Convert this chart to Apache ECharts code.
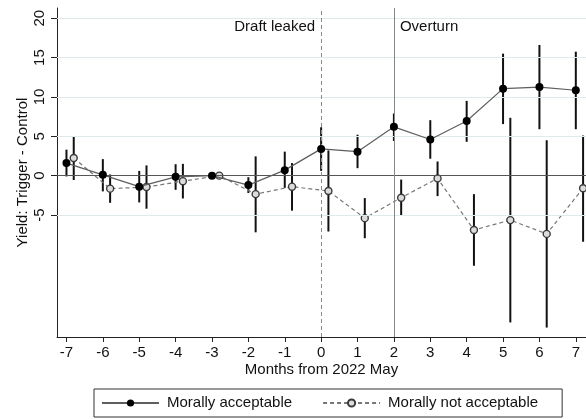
<!DOCTYPE html>
<html>
<head>
<meta charset="utf-8">
<script src="https://cdn.jsdelivr.net/npm/echarts@6/dist/echarts.min.js"></script>
<style>
  html, body { margin: 0; padding: 0; background: #fff; }
  #chart { width: 586px; height: 419px; }
</style>
</head>
<body>
<div id="chart"></div>
<script>
// Months relative to 2022 May
const months = [-7, -6, -5, -4, -3, -2, -1, 0, 1, 2, 3, 4, 5, 6, 7];

// Morally acceptable: estimate and 95% interval (month -3 is the reference)
const accEst = [1.6, 0.1, -1.4, -0.15, 0, -1.2, 0.7, 3.4, 3.05, 6.2, 4.6, 6.95, 11.05, 11.25, 10.85];
const accLo  = [-0.1, -2.0, -3.4, -1.8, null, -2.2, -1.55, 0.6, 0.95, 4.4, 2.15, 4.3, 6.55, 5.9, 5.9];
const accHi  = [3.3, 2.1, 0.6, 1.45, null, -0.2, 3.05, 6.15, 5.2, 7.9, 7.05, 9.5, 15.5, 16.6, 15.75];

// Morally not acceptable: estimate and 95% interval
const notEst = [2.25, -1.65, -1.45, -0.7, 0, -2.35, -1.4, -1.95, -5.4, -2.8, -0.35, -6.9, -5.65, -7.4, -1.6];
const notLo  = [-0.55, -3.45, -4.2, -2.9, null, -7.2, -4.45, -7.1, -7.95, -5.1, -2.6, -11.45, -18.65, -19.3, -8.4];
const notHi  = [4.95, 0.15, 1.3, 1.5, null, 2.45, 1.6, 3.2, -2.85, -0.5, 1.8, -2.35, 7.35, 4.5, 5.1];

// Axis tick labels
const xTicks = [-7, -6, -5, -4, -3, -2, -1, 0, 1, 2, 3, 4, 5, 6, 7];
const yTicks = [-5, 0, 5, 10, 15, 20];

// Event markers
const eventMonths = [0, 2];
const eventLabels = ['Draft leaked', 'Overturn'];

const seriesNames = ['Morally acceptable', 'Morally not acceptable'];

const FONT = '"Liberation Sans", Arial, Helvetica, sans-serif';
const SHIFT = 0.2; // horizontal dodge for the second group

const accPts = months.map((m, i) => [m, accEst[i]]);
const notPts = months.map((m, i) => [m + SHIFT, notEst[i]]);
const accBars = months.map((m, i) => [m, accLo[i], accHi[i]]).filter(d => d[1] !== null);
const notBars = months.map((m, i) => [m + SHIFT, notLo[i], notHi[i]]).filter(d => d[1] !== null);

function barRenderer(params, api) {
  const p1 = api.coord([api.value(0), api.value(1)]);
  const p2 = api.coord([api.value(0), api.value(2)]);
  return {
    type: 'line',
    shape: { x1: p1[0], y1: p1[1], x2: p2[0], y2: p2[1] },
    style: { stroke: '#111', lineWidth: 2 }
  };
}

const chart = echarts.init(document.getElementById('chart'), null, { renderer: 'canvas' });

chart.setOption({
  animation: false,
  backgroundColor: '#fff',
  textStyle: { fontFamily: FONT },
  grid: { left: 57, right: 0, top: 8, bottom: 82, containLabel: false },
  xAxis: {
    type: 'value',
    min: -7.26,
    max: 7.28,
    name: 'Months from 2022 May',
    nameLocation: 'middle',
    nameGap: 25,
    nameMoveOverlap: false,
    nameTextStyle: { fontSize: 15, color: '#111', fontFamily: FONT },
    axisLine: { show: true, onZero: false, lineStyle: { color: '#222', width: 1 } },
    axisTick: { show: true, customValues: xTicks, length: 5, lineStyle: { color: '#222' } },
    axisLabel: { customValues: xTicks, fontSize: 15, color: '#111', margin: 8, fontFamily: FONT },
    splitLine: { show: false }
  },
  yAxis: {
    type: 'value',
    min: -20.5,
    max: 21.3,
    name: 'Yield: Trigger - Control',
    nameLocation: 'middle',
    nameRotate: 90,
    nameGap: 27,
    nameMoveOverlap: false,
    nameTextStyle: { fontSize: 15, color: '#111', fontFamily: FONT },
    axisLine: { show: true, onZero: false, lineStyle: { color: '#222', width: 1 } },
    axisTick: { show: true, customValues: yTicks, length: 6, lineStyle: { color: '#222' } },
    axisLabel: { customValues: yTicks, rotate: 90, fontSize: 15, color: '#111', margin: 10, fontFamily: FONT },
    splitLine: { show: false }
  },
  legend: {
    data: seriesNames,
    left: 94,
    top: 389,
    orient: 'horizontal',
    itemWidth: 57,
    itemHeight: 9,
    itemGap: 30,
    padding: [6, 24, 6, 7],
    borderColor: '#333',
    borderWidth: 1,
    textStyle: { fontSize: 15, color: '#111', fontFamily: FONT, lineHeight: 16, padding: [0, 0, 0, 3] }
  },
  series: [
    {
      // reference lines: grid, zero line, event markers
      name: 'refs',
      type: 'line',
      data: [],
      z: 1,
      silent: true,
      markLine: {
        silent: true,
        symbol: 'none',
        label: { show: false },
        data: [
          ...yTicks.filter(v => v !== 0).map(v => ({ yAxis: v, lineStyle: { color: '#e0eaed', width: 1, type: 'solid' } })),
          { yAxis: 0, lineStyle: { color: '#555', width: 1.2, type: 'solid' } },
          { xAxis: eventMonths[0], lineStyle: { color: '#888', width: 1, type: [4, 3] } },
          { xAxis: eventMonths[1], lineStyle: { color: '#888', width: 1, type: 'solid' } }
        ]
      }
    },
    {
      name: 'acc-ci',
      type: 'custom',
      renderItem: barRenderer,
      data: accBars,
      encode: { x: 0, y: [1, 2] },
      z: 3,
      silent: true
    },
    {
      name: 'not-ci',
      type: 'custom',
      renderItem: barRenderer,
      data: notBars,
      encode: { x: 0, y: [1, 2] },
      z: 3,
      silent: true
    },
    {
      name: seriesNames[1],
      type: 'line',
      data: notPts,
      z: 4,
      symbol: 'circle',
      symbolSize: 7,
      lineStyle: { color: '#777', width: 1.2, type: [4, 3] },
      itemStyle: { color: '#dcdcdc', borderColor: '#3a3a3a', borderWidth: 1.4 }
    },
    {
      name: seriesNames[0],
      type: 'line',
      data: accPts,
      z: 5,
      symbol: 'circle',
      symbolSize: 8,
      lineStyle: { color: '#5e5e5e', width: 1.2 },
      itemStyle: { color: '#000', borderColor: '#000', borderWidth: 0 }
    },
    {
      name: 'events',
      type: 'custom',
      silent: true,
      z: 6,
      data: eventMonths.map((m, i) => [m, 18.95, i]),
      renderItem: function (params, api) {
        const p = api.coord([api.value(0), api.value(1)]);
        const idx = api.value(2);
        const left = idx === 0;
        return {
          type: 'text',
          x: p[0] + (left ? -6 : 6),
          y: p[1],
          style: {
            text: eventLabels[idx],
            fill: '#111',
            font: '15px ' + FONT,
            align: left ? 'right' : 'left',
            verticalAlign: 'middle'
          }
        };
      }
    }
  ]
});
</script>
</body>
</html>
